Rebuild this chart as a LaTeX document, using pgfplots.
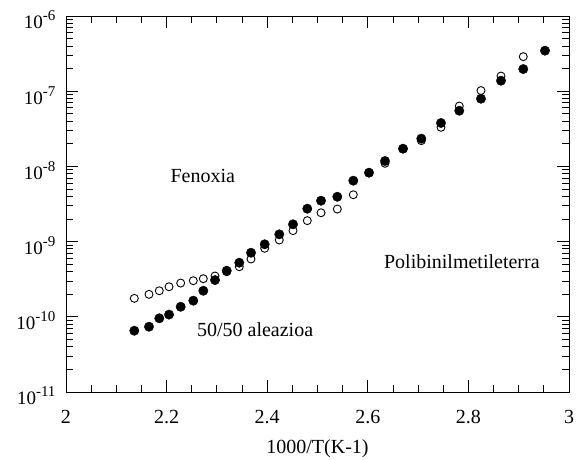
\documentclass[border=0pt]{standalone}
\usepackage{fontspec}
\setmainfont{Liberation Serif}
\usepackage{pgfplots}
\pgfplotsset{compat=1.18}
\newcommand{\tenexp}[1]{10\raisebox{0.42em}{\fontsize{15}{15}\selectfont #1}}
\begin{document}
\begin{tikzpicture}
\useasboundingbox (-66pt,-68pt) rectangle (516pt,392pt);
\begin{axis}[
    at={(0pt,0pt)}, anchor=south west,
    width=503pt, height=376pt, scale only axis,
    xmin=2, xmax=3,
    ymode=log, ymin=1e-11, ymax=1e-6,
    xtick={2,2.2,2.4,2.6,2.8,3},
    xticklabels={2,2.2,2.4,2.6,2.8,3},
    minor x tick num=3,
    ytick={1e-11,1e-10,1e-9,1e-8,1e-7,1e-6},
    yticklabels={\tenexp{-11},\tenexp{-10},\tenexp{-9},\tenexp{-8},\tenexp{-7},\tenexp{-6}},
    tick align=inside,
    major tick length=12pt, minor tick length=7pt,
    axis line style={line width=0.8pt},
    every tick/.style={black, line width=0.8pt},
    ticklabel style={font=\fontsize{20}{24}\selectfont},
    xticklabel style={yshift=-15pt},
    yticklabel style={font=\fontsize{19}{22}\selectfont, xshift=-7pt, yshift=-4pt},
    xlabel={1000/T(K-1)},
    xlabel style={font=\fontsize{20}{24}\selectfont, at={(axis description cs:0.5,0)}, anchor=center, yshift=-57pt},
]
% open circles: Fenoxia
\addplot[only marks, mark=o, mark size=4pt, mark options={line width=0.9pt, fill=white}] coordinates {
(2.1358,1.76e-10) (2.165,1.99e-10) (2.1855,2.22e-10) (2.2048,2.51e-10)
(2.228,2.81e-10) (2.2531,3.02e-10) (2.273,3.21e-10) (2.2962,3.49e-10)
(2.3195,3.98e-10) (2.3445,4.64e-10) (2.3678,5.87e-10) (2.395,8.15e-10)
(2.424,1.05e-9) (2.4513,1.40e-9) (2.4797,1.90e-9) (2.507,2.42e-9)
(2.5394,2.71e-9) (2.5712,4.20e-9) (2.6024,8.25e-9) (2.6342,1.10e-8)
(2.67,1.72e-8) (2.7064,2.20e-8) (2.7455,3.31e-8) (2.7819,6.35e-8)
(2.825,1.02e-7) (2.8648,1.59e-7) (2.9091,2.88e-7)
};
% filled circles
\addplot[only marks, mark=*, mark size=4.7pt, mark options={fill=black}] coordinates {
(2.1358,6.53e-11) (2.165,7.38e-11) (2.1855,9.55e-11) (2.2048,1.07e-10)
(2.228,1.36e-10) (2.2531,1.64e-10) (2.273,2.22e-10) (2.2962,3.08e-10)
(2.3195,4.10e-10) (2.3445,5.24e-10) (2.3678,7.11e-10) (2.395,9.21e-10)
(2.424,1.25e-9) (2.4513,1.70e-9) (2.4797,2.74e-9) (2.507,3.50e-9)
(2.5394,3.95e-9) (2.5712,6.46e-9) (2.6024,8.25e-9) (2.6342,1.18e-8)
(2.67,1.72e-8) (2.7064,2.34e-8) (2.7455,3.78e-8) (2.7819,5.50e-8)
(2.825,7.95e-8) (2.8648,1.38e-7) (2.9091,1.97e-7) (2.9523,3.46e-7)
};
\node[font=\fontsize{20}{24}\selectfont] at (axis cs:2.272,7.45e-9) {Fenoxia};
\node[font=\fontsize{20}{24}\selectfont] at (axis cs:2.787,5.36e-10) {Polibinilmetileterra};
\node[font=\fontsize{20}{24}\selectfont] at (axis cs:2.376,6.67e-11) {50/50 aleazioa};
\end{axis}
\end{tikzpicture}
\end{document}
